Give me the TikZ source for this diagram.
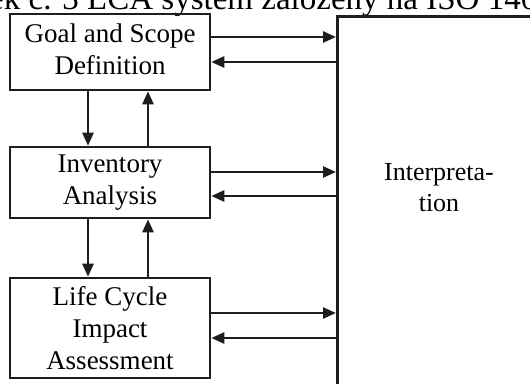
\documentclass[tikz,border=0pt]{standalone}
\usepackage{fontspec}
\setmainfont{Liberation Serif}
\usetikzlibrary{arrows.meta}
\definecolor{ink}{HTML}{1E1E1E}
\begin{document}
\begin{tikzpicture}[x=1pt,y=-1pt,
  box/.style={draw=ink, line width=2.6pt, minimum width=200pt, align=center, inner sep=0pt, font=\fontsize{27}{32}\selectfont},
  arr/.style={line width=2.6pt, draw=ink, -{Triangle[length=13pt,width=11pt]}},
  lbl/.style={align=center, inner sep=0pt, font=\fontsize{26}{31}\selectfont}
]
\useasboundingbox (0,0) rectangle (530,383);
\clip (0,0) rectangle (530,383);
\node[anchor=base west, inner sep=0pt, font=\fontsize{33}{36}\selectfont] (title) at (-11,9) {ek č. 3 LCA systém založený na ISO 1404};
\node[box, minimum height=76pt] (goal) at (110,52) {Goal and Scope\\Definition\rule[-6pt]{0pt}{6pt}};
\node[box, minimum height=71pt] (inv) at (110,182.5) {Inventory\\Analysis};
\node[box, minimum height=100pt] (lcia) at (110,328) {Life Cycle\\Impact\\Assessment};
\node[draw=ink, line width=2.6pt, minimum width=250pt, minimum height=420pt, anchor=north west, inner sep=0pt] (interp) at (336,15) {};
\node[lbl] (interptext) at (439,188) {Interpreta-\\tion};
% vertical arrows
\coordinate (d1) at ([xshift=-22pt]goal.south);
\draw[arr] (d1) -- (d1 |- inv.north);
\coordinate (u1) at ([xshift=38pt]inv.north);
\draw[arr] (u1) -- (u1 |- goal.south);
\coordinate (d2) at ([xshift=-22pt]inv.south);
\draw[arr] (d2) -- (d2 |- lcia.north);
\coordinate (u2) at ([xshift=38pt]lcia.north);
\draw[arr] (u2) -- (u2 |- inv.south);
% horizontal arrows
\coordinate (g1) at ([yshift=15pt]goal.east);
\draw[arr] (g1) -- (g1 -| interp.west);
\coordinate (g2) at ([yshift=-10pt]goal.east);
\draw[arr] (g2 -| interp.west) -- (g2);
\coordinate (i1) at ([yshift=10.5pt]inv.east);
\draw[arr] (i1) -- (i1 -| interp.west);
\coordinate (i2) at ([yshift=-13.5pt]inv.east);
\draw[arr] (i2 -| interp.west) -- (i2);
\coordinate (l1) at ([yshift=15pt]lcia.east);
\draw[arr] (l1) -- (l1 -| interp.west);
\coordinate (l2) at ([yshift=-10pt]lcia.east);
\draw[arr] (l2 -| interp.west) -- (l2);
\end{tikzpicture}
\end{document}
